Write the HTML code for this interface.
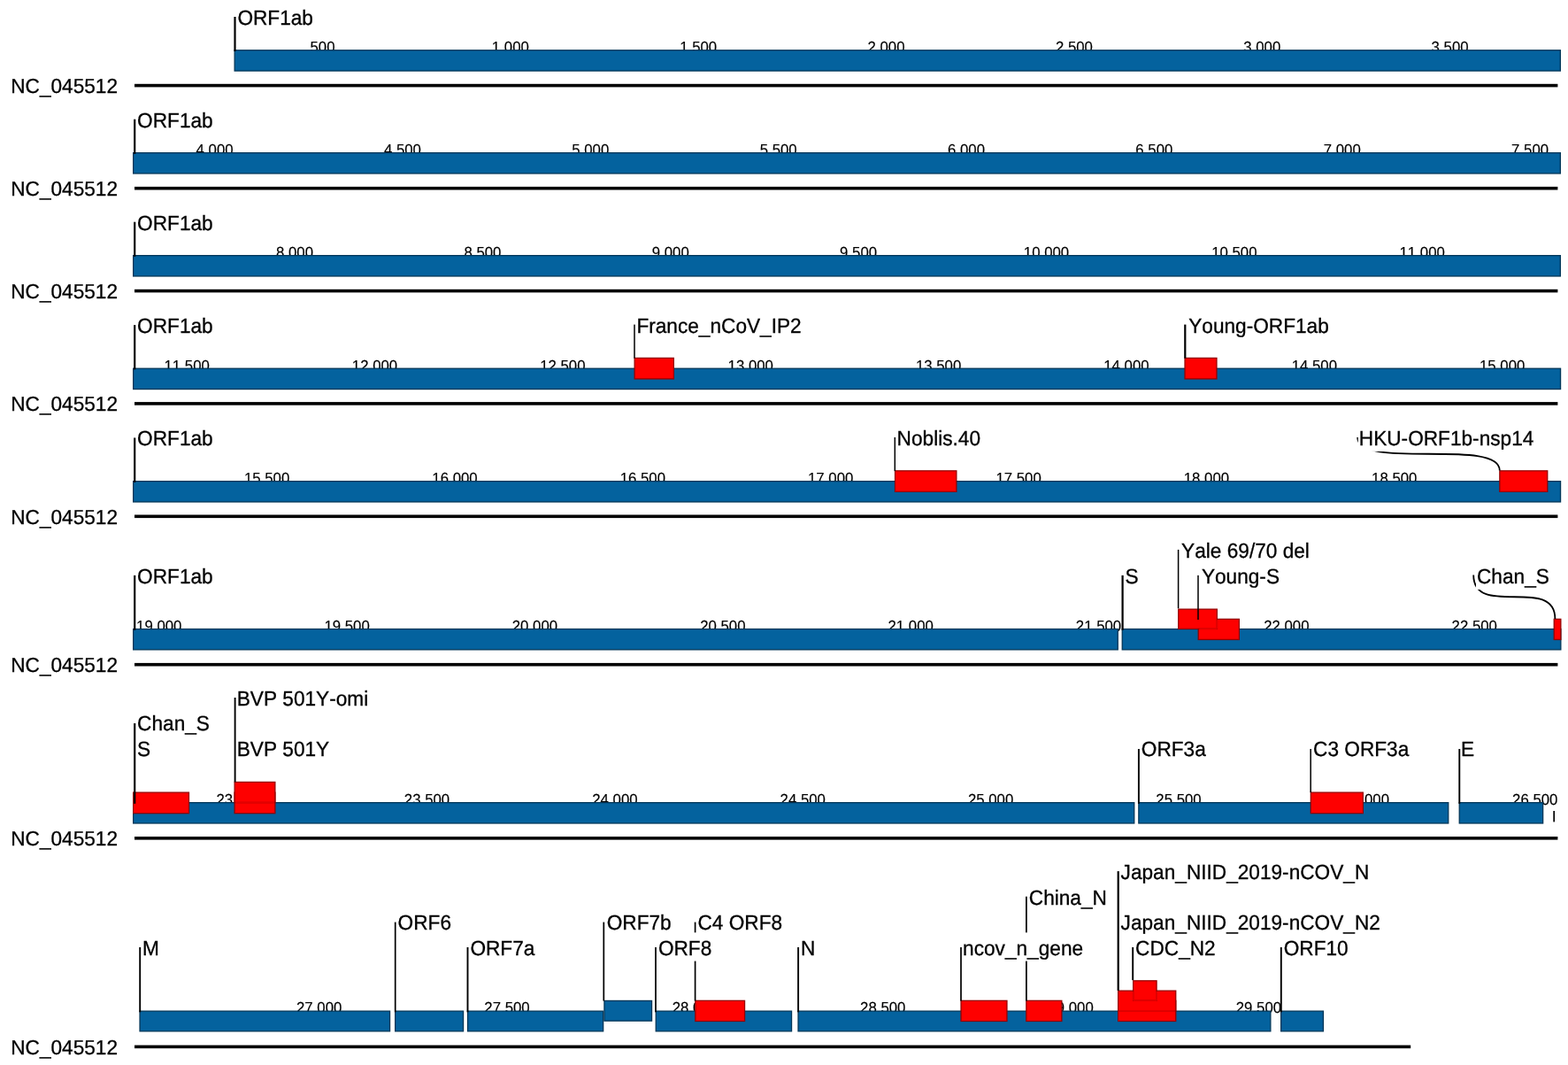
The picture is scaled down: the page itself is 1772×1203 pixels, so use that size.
<!DOCTYPE html>
<html lang="en">
<head>
<meta charset="utf-8">
<title>NC_045512 primer map</title>
<style>
html,body{margin:0;padding:0;background:#fff;}
body{width:1772px;height:1203px;overflow:hidden;}
svg{display:block;font-family:"Liberation Sans",sans-serif;font-kerning:none;font-variant-ligatures:none;text-rendering:geometricPrecision;}
</style>
</head>
<body>
<svg width="1772" height="1203" viewBox="0 0 1772 1203">
<rect x="0" y="0" width="1772" height="1203" fill="#ffffff"/>
<g>
<g font-size="16.8" text-anchor="middle" fill="#000" stroke="#000" stroke-width="0.15">
<text transform="translate(364.46 59.30) scale(1 1.04)">500</text>
<text transform="translate(576.82 59.30) scale(1 1.04)">1,000</text>
<text transform="translate(789.18 59.30) scale(1 1.04)">1,500</text>
<text transform="translate(1001.54 59.30) scale(1 1.04)">2,000</text>
<text transform="translate(1213.90 59.30) scale(1 1.04)">2,500</text>
<text transform="translate(1426.26 59.30) scale(1 1.04)">3,000</text>
<text transform="translate(1638.62 59.30) scale(1 1.04)">3,500</text>
<text transform="translate(242.57 175.20) scale(1 1.04)">4,000</text>
<text transform="translate(454.93 175.20) scale(1 1.04)">4,500</text>
<text transform="translate(667.29 175.20) scale(1 1.04)">5,000</text>
<text transform="translate(879.65 175.20) scale(1 1.04)">5,500</text>
<text transform="translate(1092.01 175.20) scale(1 1.04)">6,000</text>
<text transform="translate(1304.37 175.20) scale(1 1.04)">6,500</text>
<text transform="translate(1516.73 175.20) scale(1 1.04)">7,000</text>
<text transform="translate(1729.09 175.20) scale(1 1.04)">7,500</text>
<text transform="translate(333.03 291.20) scale(1 1.04)">8,000</text>
<text transform="translate(545.39 291.20) scale(1 1.04)">8,500</text>
<text transform="translate(757.75 291.20) scale(1 1.04)">9,000</text>
<text transform="translate(970.11 291.20) scale(1 1.04)">9,500</text>
<text transform="translate(1182.47 291.20) scale(1 1.04)">10,000</text>
<text transform="translate(1394.83 291.20) scale(1 1.04)">10,500</text>
<text transform="translate(1607.19 291.20) scale(1 1.04)">11,000</text>
<text transform="translate(211.14 418.80) scale(1 1.04)">11,500</text>
<text transform="translate(423.50 418.80) scale(1 1.04)">12,000</text>
<text transform="translate(635.86 418.80) scale(1 1.04)">12,500</text>
<text transform="translate(848.22 418.80) scale(1 1.04)">13,000</text>
<text transform="translate(1060.58 418.80) scale(1 1.04)">13,500</text>
<text transform="translate(1272.94 418.80) scale(1 1.04)">14,000</text>
<text transform="translate(1485.30 418.80) scale(1 1.04)">14,500</text>
<text transform="translate(1697.66 418.80) scale(1 1.04)">15,000</text>
<text transform="translate(301.60 546.20) scale(1 1.04)">15,500</text>
<text transform="translate(513.96 546.20) scale(1 1.04)">16,000</text>
<text transform="translate(726.32 546.20) scale(1 1.04)">16,500</text>
<text transform="translate(938.68 546.20) scale(1 1.04)">17,000</text>
<text transform="translate(1151.04 546.20) scale(1 1.04)">17,500</text>
<text transform="translate(1363.40 546.20) scale(1 1.04)">18,000</text>
<text transform="translate(1575.76 546.20) scale(1 1.04)">18,500</text>
<text transform="translate(179.71 713.10) scale(1 1.04)">19,000</text>
<text transform="translate(392.07 713.10) scale(1 1.04)">19,500</text>
<text transform="translate(604.43 713.10) scale(1 1.04)">20,000</text>
<text transform="translate(816.79 713.10) scale(1 1.04)">20,500</text>
<text transform="translate(1029.15 713.10) scale(1 1.04)">21,000</text>
<text transform="translate(1241.51 713.10) scale(1 1.04)">21,500</text>
<text transform="translate(1453.87 713.10) scale(1 1.04)">22,000</text>
<text transform="translate(1666.23 713.10) scale(1 1.04)">22,500</text>
<text transform="translate(270.17 909.20) scale(1 1.04)">23,000</text>
<text transform="translate(482.53 909.20) scale(1 1.04)">23,500</text>
<text transform="translate(694.89 909.20) scale(1 1.04)">24,000</text>
<text transform="translate(907.25 909.20) scale(1 1.04)">24,500</text>
<text transform="translate(1119.61 909.20) scale(1 1.04)">25,000</text>
<text transform="translate(1331.97 909.20) scale(1 1.04)">25,500</text>
<text transform="translate(1544.33 909.20) scale(1 1.04)">26,000</text>
<text transform="translate(1734.71 909.20) scale(1 1.04)">26,500</text>
<text transform="translate(360.64 1144.00) scale(1 1.04)">27,000</text>
<text transform="translate(573.00 1144.00) scale(1 1.04)">27,500</text>
<text transform="translate(785.36 1144.00) scale(1 1.04)">28,000</text>
<text transform="translate(997.72 1144.00) scale(1 1.04)">28,500</text>
<text transform="translate(1210.08 1144.00) scale(1 1.04)">29,000</text>
<text transform="translate(1422.44 1144.00) scale(1 1.04)">29,500</text>
</g>
<rect x="152" y="94.80" width="1608.40" height="3.6" fill="#000"/>
<rect x="152" y="210.90" width="1608.40" height="3.6" fill="#000"/>
<rect x="152" y="326.80" width="1608.40" height="3.6" fill="#000"/>
<rect x="152" y="454.10" width="1608.40" height="3.6" fill="#000"/>
<rect x="152" y="581.50" width="1608.40" height="3.6" fill="#000"/>
<rect x="152" y="748.90" width="1608.40" height="3.6" fill="#000"/>
<rect x="152" y="945.00" width="1608.40" height="3.6" fill="#000"/>
<rect x="152" y="1180.60" width="1442.20" height="3.6" fill="#000"/>
<g font-size="22.65" fill="#000" stroke="#000" stroke-width="0.3">
<text transform="translate(12.2 104.80) scale(1 1.02)">NC_045512</text>
<text transform="translate(12.2 220.90) scale(1 1.02)">NC_045512</text>
<text transform="translate(12.2 336.80) scale(1 1.02)">NC_045512</text>
<text transform="translate(12.2 464.10) scale(1 1.02)">NC_045512</text>
<text transform="translate(12.2 591.50) scale(1 1.02)">NC_045512</text>
<text transform="translate(12.2 758.90) scale(1 1.02)">NC_045512</text>
<text transform="translate(12.2 955.00) scale(1 1.02)">NC_045512</text>
<text transform="translate(12.2 1190.60) scale(1 1.02)">NC_045512</text>
</g>
<rect x="265.15" y="56.75" width="1498.20" height="23.30" fill="#04629e" stroke="#023658" stroke-width="1.3"/>
<rect x="150.65" y="172.65" width="1612.70" height="23.30" fill="#04629e" stroke="#023658" stroke-width="1.3"/>
<rect x="150.65" y="288.65" width="1612.70" height="23.30" fill="#04629e" stroke="#023658" stroke-width="1.3"/>
<rect x="150.65" y="416.25" width="1612.90" height="23.30" fill="#04629e" stroke="#023658" stroke-width="1.3"/>
<rect x="150.65" y="543.65" width="1612.90" height="23.30" fill="#04629e" stroke="#023658" stroke-width="1.3"/>
<rect x="150.65" y="710.55" width="1112.60" height="23.30" fill="#04629e" stroke="#023658" stroke-width="1.3"/>
<rect x="1268.25" y="710.55" width="495.60" height="23.30" fill="#04629e" stroke="#023658" stroke-width="1.3"/>
<rect x="150.65" y="906.65" width="1131.10" height="23.30" fill="#04629e" stroke="#023658" stroke-width="1.3"/>
<rect x="1286.85" y="906.65" width="349.90" height="23.30" fill="#04629e" stroke="#023658" stroke-width="1.3"/>
<rect x="1649.25" y="906.65" width="94.40" height="23.30" fill="#04629e" stroke="#023658" stroke-width="1.3"/>
<rect x="158.05" y="1142.15" width="282.50" height="22.70" fill="#04629e" stroke="#023658" stroke-width="1.3"/>
<rect x="446.65" y="1142.15" width="76.90" height="22.70" fill="#04629e" stroke="#023658" stroke-width="1.3"/>
<rect x="528.55" y="1142.15" width="153.10" height="22.70" fill="#04629e" stroke="#023658" stroke-width="1.3"/>
<rect x="682.95" y="1130.45" width="53.60" height="22.70" fill="#04629e" stroke="#023658" stroke-width="1.3"/>
<rect x="741.25" y="1142.15" width="153.30" height="22.70" fill="#04629e" stroke="#023658" stroke-width="1.3"/>
<rect x="902.05" y="1142.15" width="533.80" height="22.70" fill="#04629e" stroke="#023658" stroke-width="1.3"/>
<rect x="1447.65" y="1142.15" width="47.80" height="22.70" fill="#04629e" stroke="#023658" stroke-width="1.3"/>
<rect x="717.15" y="404.45" width="44.20" height="23.50" fill="#fe0000" stroke="#960000" stroke-width="1.3"/>
<rect x="1339.05" y="404.45" width="35.90" height="23.50" fill="#fe0000" stroke="#960000" stroke-width="1.3"/>
<rect x="1011.55" y="531.85" width="69.30" height="23.50" fill="#fe0000" stroke="#960000" stroke-width="1.3"/>
<rect x="1694.85" y="531.85" width="53.90" height="23.50" fill="#fe0000" stroke="#960000" stroke-width="1.3"/>
<rect x="1354.25" y="699.35" width="46.10" height="23.10" fill="#fe0000" stroke="#960000" stroke-width="1.3"/>
<rect x="1331.75" y="688.15" width="43.60" height="22.20" fill="#fe0000" stroke="#960000" stroke-width="1.3"/>
<rect x="1756.25" y="699.35" width="7.60" height="23.10" fill="#fe0000" stroke="#960000" stroke-width="1.3"/>
<rect x="150.65" y="895.15" width="62.80" height="23.50" fill="#fe0000" stroke="#960000" stroke-width="1.3"/>
<rect x="265.15" y="895.15" width="45.70" height="23.50" fill="#fe0000" stroke="#960000" stroke-width="1.3"/>
<rect x="265.15" y="883.45" width="45.70" height="23.10" fill="#fe0000" stroke="#960000" stroke-width="1.3"/>
<rect x="1481.35" y="895.15" width="59.00" height="23.50" fill="#fe0000" stroke="#960000" stroke-width="1.3"/>
<rect x="785.85" y="1130.35" width="55.70" height="23.10" fill="#fe0000" stroke="#960000" stroke-width="1.3"/>
<rect x="1086.05" y="1130.35" width="51.90" height="23.10" fill="#fe0000" stroke="#960000" stroke-width="1.3"/>
<rect x="1159.85" y="1130.35" width="40.00" height="23.10" fill="#fe0000" stroke="#960000" stroke-width="1.3"/>
<rect x="1263.65" y="1130.35" width="65.10" height="23.10" fill="#fe0000" stroke="#960000" stroke-width="1.3"/>
<rect x="1263.65" y="1119.15" width="65.10" height="22.70" fill="#fe0000" stroke="#960000" stroke-width="1.3"/>
<rect x="1280.65" y="1107.85" width="26.40" height="22.30" fill="#fe0000" stroke="#960000" stroke-width="1.3"/>
<line x1="1375.35" y1="700.30" x2="1375.35" y2="710.35" stroke="#e20000" stroke-width="1.9"/>
<line x1="1355.20" y1="710.35" x2="1375.35" y2="710.35" stroke="#e20000" stroke-width="1.9"/>
<line x1="266.10" y1="906.55" x2="309.90" y2="906.55" stroke="#e20000" stroke-width="1.9"/>
<line x1="1264.60" y1="1141.85" x2="1327.80" y2="1141.85" stroke="#e20000" stroke-width="1.9"/>
<line x1="1280.65" y1="1120.10" x2="1280.65" y2="1130.15" stroke="#e20000" stroke-width="1.9"/>
<line x1="1307.05" y1="1120.10" x2="1307.05" y2="1130.15" stroke="#e20000" stroke-width="1.9"/>
<line x1="1280.65" y1="1130.15" x2="1307.05" y2="1130.15" stroke="#e20000" stroke-width="1.9"/>
<rect x="264.40" y="19.00" width="2.2" height="38.90" fill="#000"/>
<rect x="151.10" y="134.70" width="2.2" height="39.10" fill="#000"/>
<rect x="151.10" y="250.70" width="2.2" height="39.10" fill="#000"/>
<rect x="151.10" y="367.10" width="2.2" height="50.30" fill="#000"/>
<rect x="716.25" y="366.60" width="1.5" height="38.10" fill="#000"/>
<rect x="1338.20" y="366.60" width="2.2" height="38.10" fill="#000"/>
<rect x="151.10" y="494.50" width="2.2" height="50.30" fill="#000"/>
<rect x="1010.55" y="494.00" width="1.5" height="38.10" fill="#000"/>
<path d="M1534.2 494 C1534.2 531.5 1694.8 494 1694.8 531.5" fill="none" stroke="#000" stroke-width="1.8"/>
<rect x="151.10" y="649.90" width="2.2" height="61.80" fill="#000"/>
<rect x="1267.50" y="649.90" width="2.2" height="61.80" fill="#000"/>
<rect x="1330.85" y="620.90" width="1.5" height="66.40" fill="#000"/>
<rect x="1353.25" y="649.90" width="1.5" height="50.10" fill="#000"/>
<path d="M1665.2 649.5 C1665.2 699 1757.4 649.5 1757.4 699" fill="none" stroke="#000" stroke-width="1.8"/>
<rect x="151.10" y="817.00" width="2.2" height="90.80" fill="#000"/>
<rect x="264.65" y="788.00" width="1.9" height="95.40" fill="#000"/>
<rect x="1285.95" y="846.00" width="1.9" height="61.80" fill="#000"/>
<rect x="1480.45" y="846.00" width="1.5" height="49.10" fill="#000"/>
<rect x="1648.35" y="846.00" width="1.9" height="61.80" fill="#000"/>
<rect x="1755.35" y="916.00" width="1.7" height="12.40" fill="#000"/>
<rect x="157.25" y="1070.00" width="1.9" height="73.30" fill="#000"/>
<rect x="445.85" y="1041.60" width="1.7" height="101.70" fill="#000"/>
<rect x="527.55" y="1070.00" width="1.9" height="73.30" fill="#000"/>
<rect x="681.45" y="1041.60" width="1.7" height="89.00" fill="#000"/>
<rect x="784.75" y="1041.60" width="1.7" height="89.00" fill="#000"/>
<rect x="740.15" y="1070.00" width="1.7" height="73.30" fill="#000"/>
<rect x="901.15" y="1070.00" width="1.9" height="73.30" fill="#000"/>
<rect x="1159.05" y="1012.70" width="1.7" height="117.90" fill="#000"/>
<rect x="1085.15" y="1070.00" width="1.7" height="60.60" fill="#000"/>
<rect x="1262.60" y="984.10" width="2.2" height="134.80" fill="#000"/>
<rect x="1279.25" y="1070.00" width="1.9" height="37.20" fill="#000"/>
<rect x="1446.85" y="1070.00" width="1.9" height="73.30" fill="#000"/>
<g font-size="22.65" fill="#000" stroke="#000" stroke-width="0.3">
<text transform="translate(268.40 27.80) scale(1 1.035)">ORF1ab</text>
<text transform="translate(155.10 143.70) scale(1 1.035)">ORF1ab</text>
<text transform="translate(155.10 259.70) scale(1 1.035)">ORF1ab</text>
<text transform="translate(155.10 375.50) scale(1 1.035)">ORF1ab</text>
<text transform="translate(719.40 375.50) scale(1 1.035)">France_nCoV_IP2</text>
<text transform="translate(1343.20 375.50) scale(1 1.035)">Young-ORF1ab</text>
<text transform="translate(155.10 502.90) scale(1 1.035)">ORF1ab</text>
<text transform="translate(1013.60 502.90) scale(1 1.035)">Noblis.40</text>
<rect x="1534.80" y="477.70" width="198.1" height="32.2" fill="#fff" stroke="none"/>
<text transform="translate(1535.80 502.90) scale(1 1.035)">HKU-ORF1b-nsp14</text>
<text transform="translate(155.10 658.50) scale(1 1.035)">ORF1ab</text>
<text transform="translate(1271.50 658.50) scale(1 1.035)">S</text>
<text transform="translate(1335.10 630.30) scale(1 1.035)">Yale 69/70 del</text>
<text transform="translate(1357.90 658.50) scale(1 1.035)">Young-S</text>
<rect x="1668.00" y="633.70" width="82.6" height="32.2" fill="#fff" stroke="none"/>
<text transform="translate(1669.00 658.90) scale(1 1.035)">Chan_S</text>
<text transform="translate(155.10 825.10) scale(1 1.035)">Chan_S</text>
<text transform="translate(155.10 853.60) scale(1 1.035)">S</text>
<text transform="translate(267.70 796.80) scale(1 1.035)">BVP 501Y-omi</text>
<text transform="translate(267.70 853.60) scale(1 1.035)">BVP 501Y</text>
<text transform="translate(1289.80 853.60) scale(1 1.035)">ORF3a</text>
<text transform="translate(1484.10 853.60) scale(1 1.035)">C3 ORF3a</text>
<text transform="translate(1651.00 853.60) scale(1 1.035)">E</text>
<text transform="translate(161.10 1078.60) scale(1 1.035)">M</text>
<text transform="translate(449.60 1050.20) scale(1 1.035)">ORF6</text>
<text transform="translate(531.40 1078.60) scale(1 1.035)">ORF7a</text>
<text transform="translate(685.70 1050.20) scale(1 1.035)">ORF7b</text>
<text transform="translate(788.50 1050.20) scale(1 1.035)">C4 ORF8</text>
<rect x="742.90" y="1053.40" width="61.3" height="32.2" fill="#fff" stroke="none"/>
<text transform="translate(743.90 1078.60) scale(1 1.035)">ORF8</text>
<text transform="translate(905.00 1078.60) scale(1 1.035)">N</text>
<text transform="translate(1162.80 1021.80) scale(1 1.035)">China_N</text>
<rect x="1087.10" y="1053.40" width="136.7" height="32.2" fill="#fff" stroke="none"/>
<text transform="translate(1088.10 1078.60) scale(1 1.035)">ncov_n_gene</text>
<text transform="translate(1266.60 993.20) scale(1 1.035)">Japan_NIID_2019-nCOV_N</text>
<text transform="translate(1266.60 1050.20) scale(1 1.035)">Japan_NIID_2019-nCOV_N2</text>
<text transform="translate(1283.10 1078.60) scale(1 1.035)">CDC_N2</text>
<text transform="translate(1450.70 1078.60) scale(1 1.035)">ORF10</text>
</g>
</g>
</svg>
</body>
</html>
